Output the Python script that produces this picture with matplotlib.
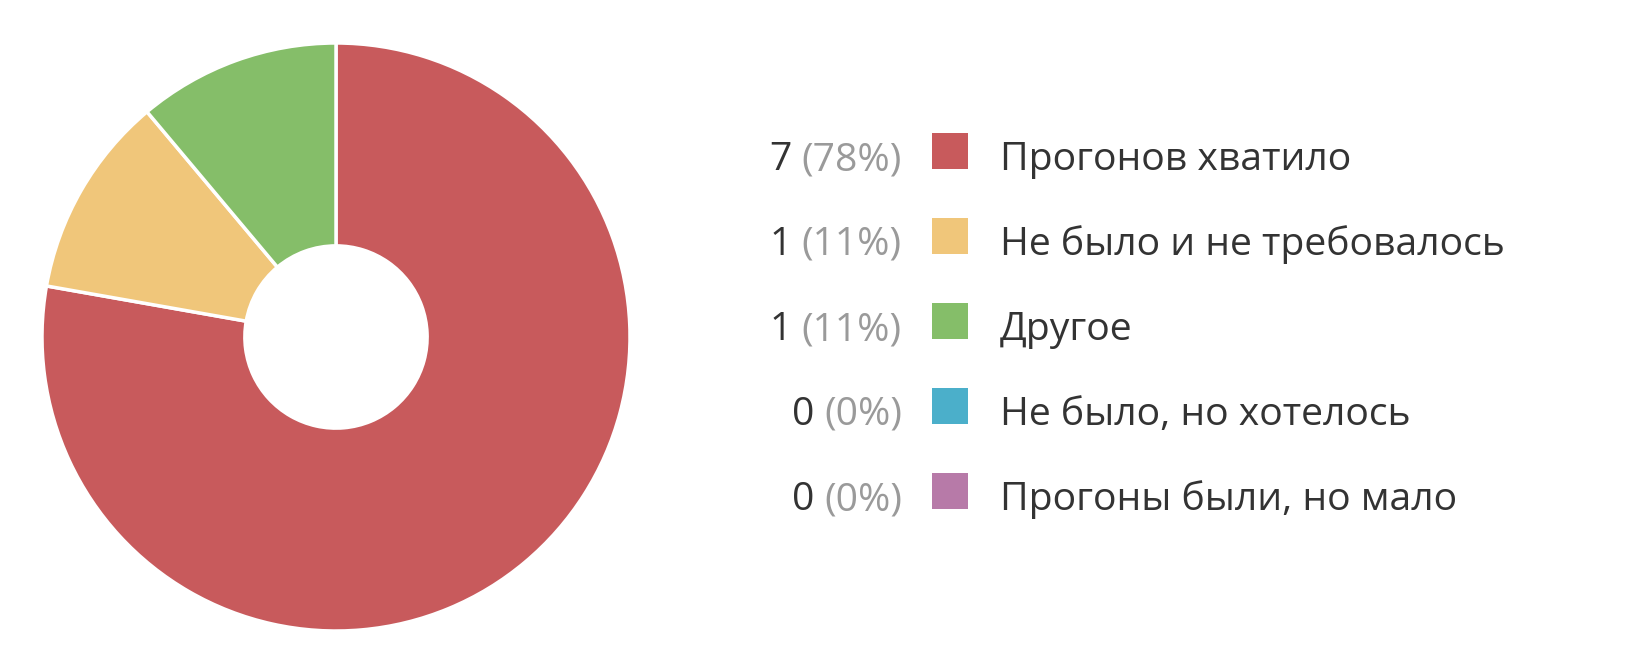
import matplotlib
matplotlib.use('Agg')
import matplotlib.pyplot as plt

# данные опроса
labels = ['Прогонов хватило', 'Не было и не требовалось', 'Другое',
          'Не было, но хотелось', 'Прогоны были, но мало']
counts = [7, 1, 1, 0, 0]
colors = ['#C85A5C', '#F0C67A', '#85BE69', '#4BAFCA', '#B77AA8']

plt.rcParams['font.family'] = ['Open Sans', 'DejaVu Sans']

W, H = 1636, 666
fig = plt.figure(figsize=(W / 100, H / 100), dpi=100)
fig.patch.set_facecolor('white')

# кольцевая диаграмма
cx, cy, r = 336, H - 337, 294
ax = fig.add_axes([(cx - r) / W, (cy - r) / H, 2 * r / W, 2 * r / H])
vals = [c for c in counts if c > 0]
cols = [col for c, col in zip(counts, colors) if c > 0]
ax.pie(vals, colors=cols, startangle=90, counterclock=False, radius=1,
       wedgeprops=dict(width=0.69, edgecolor='white', linewidth=2.5))
ax.set_xlim(-1, 1)
ax.set_ylim(-1, 1)
ax.set_aspect('equal')
ax.axis('off')

# легенда
total = sum(counts)
x_num = 902
x_box = 932
box = 36
x_lab = 1000
y0 = H - 151
dy = 85
fs = 28.2

fig.canvas.draw()
renderer = fig.canvas.get_renderer()
for i, (lab, c, col) in enumerate(zip(labels, counts, colors)):
    y = y0 - i * dy
    yb = y - 19  # базовая линия текста
    pct = fig.text(x_num / W, yb / H, '(%d%%)' % round(100 * c / total),
                   ha='right', va='baseline', fontsize=fs, color='#9a9a9a')
    bb = pct.get_window_extent(renderer)
    fig.text((bb.x0 - 10) / W, yb / H, str(c), ha='right', va='baseline',
             fontsize=fs, color='#333333')
    fig.patches.append(plt.Rectangle((x_box / W, (y - box / 2) / H), box / W, box / H,
                                     transform=fig.transFigure, facecolor=col,
                                     edgecolor='none'))
    fig.text(x_lab / W, yb / H, lab, ha='left', va='baseline', fontsize=fs,
             color='#333333')

fig.savefig('out.png', dpi=100)
